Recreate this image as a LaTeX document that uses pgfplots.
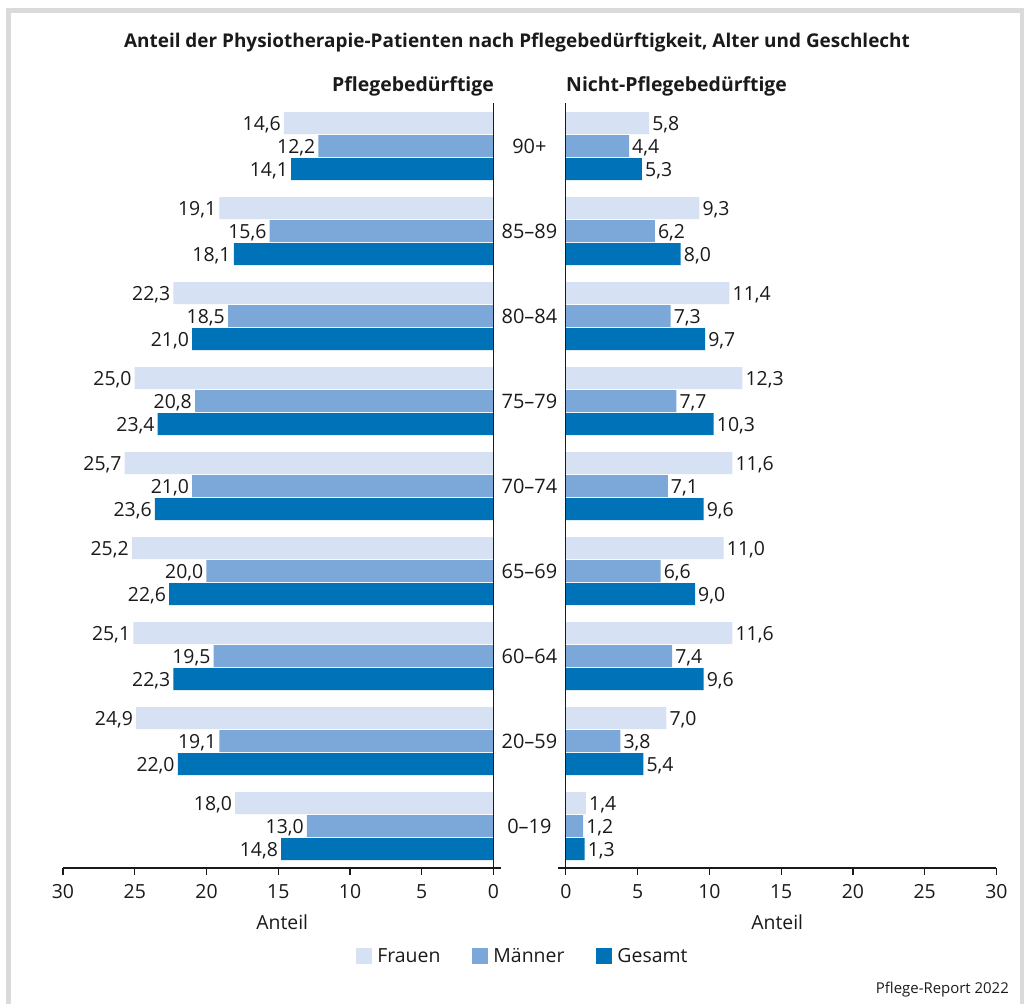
\documentclass[border=0pt]{standalone}
\usepackage{fontspec}
\setmainfont{Open Sans}
\usepackage{pgfplots}
\pgfplotsset{compat=1.18}
\definecolor{cF}{HTML}{D6E1F4}
\definecolor{cM}{HTML}{7BA7D9}
\definecolor{cG}{HTML}{0072B7}
\definecolor{frame}{HTML}{DADADA}
\definecolor{ink}{HTML}{1A1A1A}
\pgfplotsset{
  /pgf/number format/assume math mode=true,
  common/.style={
    x=14.35bp, y=85bp,
    xmin=-0.55, xmax=30, ymin=-0.494, ymax=8.506,
    axis x line*=bottom, axis y line=none,
    axis line style={ink, line width=1.2bp},
    xtick={0,5,...,30},
    tick align=outside, major tick length=7bp,
    tick style={ink, line width=1.2bp},
    xticklabel style={font=\fontsize{19.5}{22}\selectfont, text=ink, yshift=-6bp},
    xlabel={Anteil}, xlabel style={font=\fontsize{19.5}{22}\selectfont, text=ink, yshift=-9bp},
    clip=false,
    nodes near coords={\pgfmathprintnumber[fixed,fixed zerofill,precision=1,use comma]{\pgfplotspointmeta}},
    point meta=x,
    every node near coord/.append style={font=\fontsize{19.5}{22}\selectfont, text=ink, inner sep=3bp, yshift=-1.5bp},
  },
  bF/.style={xbar, bar width=0.2588, bar shift=0.2706, fill=cF, draw=none,
    every node near coord/.append style={yshift=23bp}},
  bM/.style={xbar, bar width=0.2588, bar shift=0, fill=cM, draw=none},
  bG/.style={xbar, bar width=0.2588, bar shift=-0.2706, fill=cG, draw=none,
    every node near coord/.append style={yshift=-23bp}},
}
\begin{document}
\begin{tikzpicture}
\path[use as bounding box] (0,0) rectangle (1024bp,1004bp);
% frame
\draw[frame, line width=5bp] (8.5bp,0) -- (8.5bp,993.5bp) -- (1022bp,993.5bp) -- (1022bp,0);
% title
\node[font=\bfseries\fontsize{19}{22}\selectfont, text=ink] at (517bp,961bp) {Anteil der Physiotherapie-Patienten nach Pflegebedürftigkeit, Alter und Geschlecht};
\node[font=\bfseries\fontsize{19.5}{22}\selectfont, text=ink, anchor=base east, inner sep=0] at (494bp,912bp) {Pflegebedürftige};
\node[font=\bfseries\fontsize{19.5}{22}\selectfont, text=ink, anchor=base west, inner sep=0] at (566bp,912bp) {Nicht-Pflegebedürftige};
\node[font=\fontsize{15}{18}\selectfont, text=ink, anchor=base east, inner sep=0] at (1009bp,11bp) {Pflege-Report 2022};

% left axis
\begin{axis}[common, x dir=reverse, at={(63bp,136bp)}, anchor=south west,
  every node near coord/.append style={anchor=east}]
\addplot[bF] coordinates {(14.6,8) (19.1,7) (22.3,6) (25.0,5) (25.7,4) (25.2,3) (25.1,2) (24.9,1) (18.0,0)};
\addplot[bM] coordinates {(12.2,8) (15.6,7) (18.5,6) (20.8,5) (21.0,4) (20.0,3) (19.5,2) (19.1,1) (13.0,0)};
\addplot[bG] coordinates {(14.1,8) (18.1,7) (21.0,6) (23.4,5) (23.6,4) (22.6,3) (22.3,2) (22.0,1) (14.8,0)};
\draw[ink, line width=1.2bp] (axis cs:0,-0.494) -- (axis cs:0,8.506);
\begin{scope}[every node/.style={font=\fontsize{20}{22}\selectfont, text=ink}]
\node at (axis cs:-2.5,8) {90+};
\node at (axis cs:-2.5,7) {85–89};
\node at (axis cs:-2.5,6) {80–84};
\node at (axis cs:-2.5,5) {75–79};
\node at (axis cs:-2.5,4) {70–74};
\node at (axis cs:-2.5,3) {65–69};
\node at (axis cs:-2.5,2) {60–64};
\node at (axis cs:-2.5,1) {20–59};
\node at (axis cs:-2.5,0) {0–19};
\end{scope}
\end{axis}

% right axis
\begin{axis}[common, at={(558bp,136bp)}, anchor=south west,
  every node near coord/.append style={anchor=west},
  legend columns=3,
  legend style={draw=none, fill=none, at={(-0.08,-0.115)}, anchor=center,
    font=\fontsize{19.5}{22}\selectfont, text=ink,
    /tikz/every even column/.append style={column sep=30bp}},
  legend image code/.code={\fill[#1] (0bp,-8bp) rectangle (16bp,8bp);},
]
\addplot[bF] coordinates {(5.8,8) (9.3,7) (11.4,6) (12.3,5) (11.6,4) (11.0,3) (11.6,2) (7.0,1) (1.4,0)};
\addplot[bM] coordinates {(4.4,8) (6.2,7) (7.3,6) (7.7,5) (7.1,4) (6.6,3) (7.4,2) (3.8,1) (1.2,0)};
\addplot[bG] coordinates {(5.3,8) (8.0,7) (9.7,6) (10.3,5) (9.6,4) (9.0,3) (9.6,2) (5.4,1) (1.3,0)};
\legend{\hspace{3bp}Frauen, \hspace{3bp}Männer, \hspace{3bp}Gesamt}
\draw[ink, line width=1.2bp] (axis cs:0,-0.494) -- (axis cs:0,8.506);
\end{axis}
\end{tikzpicture}
\end{document}
